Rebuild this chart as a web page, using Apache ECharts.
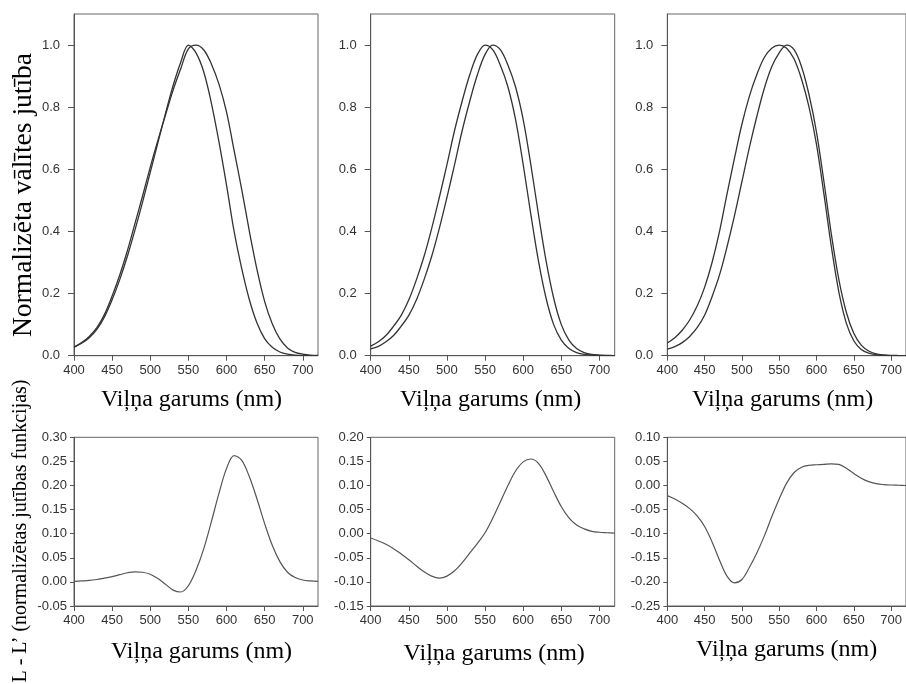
<!DOCTYPE html>
<html><head><meta charset="utf-8">
<script src="https://cdn.jsdelivr.net/npm/echarts@6/dist/echarts.min.js"></script>
<style>html,body{margin:0;padding:0;background:#fff}#c{width:906px;height:684px}</style>
</head><body><div id="c"></div>
<script>
// ---- data ----
const wavelengths = [400,410,420,430,440,450,460,470,480,490,500,510,520,530,540,550,560,570,580,590,600,610,620,630,640,650,660,670,680,690,700,710,720];

// panel 1 (top-left)
const p1L  = [0.028,0.042,0.062,0.090,0.133,0.192,0.260,0.338,0.426,0.515,0.607,0.693,0.775,0.855,0.924,0.988,1.000,0.985,0.940,0.875,0.785,0.660,0.535,0.400,0.277,0.175,0.103,0.054,0.025,0.011,0.005,0.002,0.001];
const p1Lp = [0.027,0.040,0.058,0.085,0.125,0.180,0.245,0.320,0.405,0.495,0.590,0.685,0.780,0.870,0.945,1.000,0.975,0.915,0.815,0.690,0.550,0.400,0.280,0.180,0.105,0.055,0.027,0.012,0.005,0.002,0.001,0.0003,0.0001];
// panel 2 (top-middle)
const p2L  = [0.022,0.030,0.045,0.065,0.095,0.130,0.180,0.245,0.320,0.410,0.510,0.615,0.725,0.820,0.905,0.970,1.000,0.985,0.935,0.865,0.760,0.615,0.455,0.305,0.185,0.100,0.050,0.023,0.010,0.004,0.002,0.001,0.0004];
const p2Lp = [0.031,0.045,0.065,0.095,0.130,0.180,0.245,0.320,0.410,0.510,0.615,0.725,0.820,0.905,0.970,1.000,0.985,0.935,0.865,0.760,0.615,0.455,0.305,0.185,0.100,0.050,0.023,0.010,0.004,0.002,0.001,0.0004,0.0002];
// panel 3 (top-right)
const p3L  = [0.021,0.029,0.042,0.062,0.090,0.130,0.190,0.260,0.350,0.450,0.560,0.670,0.770,0.860,0.930,0.975,1.000,0.985,0.930,0.840,0.720,0.560,0.390,0.245,0.140,0.072,0.034,0.015,0.006,0.0025,0.001,0.0005,0.0002];
const p3Lp = [0.041,0.058,0.082,0.115,0.160,0.220,0.300,0.400,0.520,0.635,0.745,0.835,0.905,0.960,0.990,1.000,0.990,0.955,0.890,0.800,0.680,0.520,0.350,0.205,0.105,0.048,0.020,0.008,0.003,0.001,0.0004,0.0002,0.0001];
// differences L - L' (bottom row)
const d1 = [0.001,0.002,0.003,0.005,0.008,0.011,0.015,0.019,0.021,0.020,0.016,0.007,-0.005,-0.017,-0.021,-0.008,0.024,0.068,0.124,0.183,0.235,0.262,0.252,0.218,0.172,0.121,0.076,0.042,0.020,0.009,0.004,0.002,0.001];
const d2 = [-0.009,-0.015,-0.022,-0.031,-0.042,-0.054,-0.067,-0.079,-0.088,-0.092,-0.088,-0.077,-0.060,-0.040,-0.020,0.002,0.032,0.066,0.100,0.130,0.149,0.155,0.146,0.120,0.087,0.056,0.033,0.018,0.010,0.005,0.003,0.002,0.001];
const d3 = [-0.021,-0.028,-0.037,-0.048,-0.063,-0.085,-0.117,-0.155,-0.188,-0.202,-0.195,-0.170,-0.140,-0.105,-0.065,-0.028,0.005,0.027,0.038,0.042,0.043,0.044,0.045,0.044,0.036,0.025,0.015,0.008,0.004,0.002,0.001,0.0005,0.000];

// axis ranges [min, max, interval]
const xRange = [400, 720, 50];
const topYRange = [0, 1.1, 0.2];
const bottomYRanges = [[-0.05, 0.30, 0.05], [-0.15, 0.20, 0.05], [-0.25, 0.10, 0.05]];

const xTitle = 'Viļņa garums (nm)';
const topYTitle = 'Normalizēta vālītes jutība';
const bottomYTitle = 'L - L\u2019 (normalizētas jutības funkcijas)';

// ---- layout ----
const lefts = [74, 370.7, 667.3];
const gridW = 244;
const topRow = {top: 14, height: 341.7};
const botRow = {top: 437.3, height: 168.7};
const topNamePad = [[0,9,0,0],[0,4,0,0],[0,8,0,0]];
const botNamePad = [[0,0,0,11],[0,0,0,3],[0,0,0,0]];
const botNameGap = [34, 36, 32];

const labelFont = {fontFamily: 'Liberation Sans, Arial, sans-serif', fontSize: 13, color: '#333'};
const titleFont = {fontFamily: 'Liberation Serif, Times New Roman, serif', fontSize: 24, color: '#000'};

const grids = [], xAxes = [], yAxes = [], series = [];
function pairs(ys){ return wavelengths.map((w,i)=>[w, ys[i]]); }

function addPanel(idx, row, left, yr, decimals, namePad, nameGap, lblMargin, tickLen, showMax){
  grids.push({left: left, top: row.top, width: gridW, height: row.height, show: true,
    borderColor: '#666', borderWidth: 1, containLabel: false});
  xAxes.push({type: 'value', gridIndex: idx, min: xRange[0], max: xRange[1], interval: xRange[2],
    name: xTitle, nameLocation: 'middle', nameGap: nameGap,
    nameTextStyle: Object.assign({padding: namePad}, titleFont),
    axisLine: {show: true, onZero: false, lineStyle: {color: '#555', width: 1}},
    axisTick: {show: true, length: 5, lineStyle: {color: '#555'}},
    splitLine: {show: false},
    axisLabel: Object.assign({margin: 8, showMaxLabel: false,
      formatter: v => (v % 50 === 0 ? String(v) : '')}, labelFont)});
  yAxes.push({type: 'value', gridIndex: idx, min: yr[0], max: yr[1], interval: yr[2],
    axisLine: {show: true, onZero: false, lineStyle: {color: '#555', width: 1}},
    axisTick: {show: true, length: tickLen, lineStyle: {color: '#555'}},
    splitLine: {show: false},
    axisLabel: Object.assign({margin: lblMargin, showMaxLabel: showMax, showMinLabel: true,
      formatter: v => v.toFixed(decimals)}, labelFont)});
}

for (let i = 0; i < 3; i++) addPanel(i, topRow, lefts[i], topYRange, 1, topNamePad[i], 32, 14, 6, false);
for (let i = 0; i < 3; i++) addPanel(3 + i, botRow, lefts[i], bottomYRanges[i], 2, botNamePad[i], botNameGap[i], 7, 4, true);

const topCurves = [[p1L, p1Lp], [p2L, p2Lp], [p3L, p3Lp]];
topCurves.forEach((pair, i) => {
  pair.forEach((ys, k) => series.push({type: 'line', xAxisIndex: i, yAxisIndex: i,
    name: k === 0 ? 'L' : "L'", data: pairs(ys), showSymbol: false, smooth: 0.35,
    lineStyle: {color: '#333', width: 1.3}}));
});
[d1, d2, d3].forEach((ys, i) => series.push({type: 'line', xAxisIndex: 3 + i, yAxisIndex: 3 + i,
  name: "L - L'", data: pairs(ys), showSymbol: false, smooth: 0.35,
  lineStyle: {color: '#555', width: 1.2}}));

const chart = echarts.init(document.getElementById('c'), null, {renderer: 'canvas'});
chart.setOption({
  animation: false,
  backgroundColor: '#fff',
  grid: grids, xAxis: xAxes, yAxis: yAxes, series: series,
  graphic: [
    {type: 'text', x: 24, y: 195, rotation: Math.PI / 2,
      style: {text: topYTitle, align: 'center', verticalAlign: 'middle',
        font: '27.5px "Liberation Serif", "Times New Roman", serif', fill: '#000'}},
    {type: 'text', x: 21, y: 531, rotation: Math.PI / 2,
      style: {text: bottomYTitle, align: 'center', verticalAlign: 'middle',
        font: '20px "Liberation Serif", "Times New Roman", serif', fill: '#000'}}
  ]
});
</script></body></html>
